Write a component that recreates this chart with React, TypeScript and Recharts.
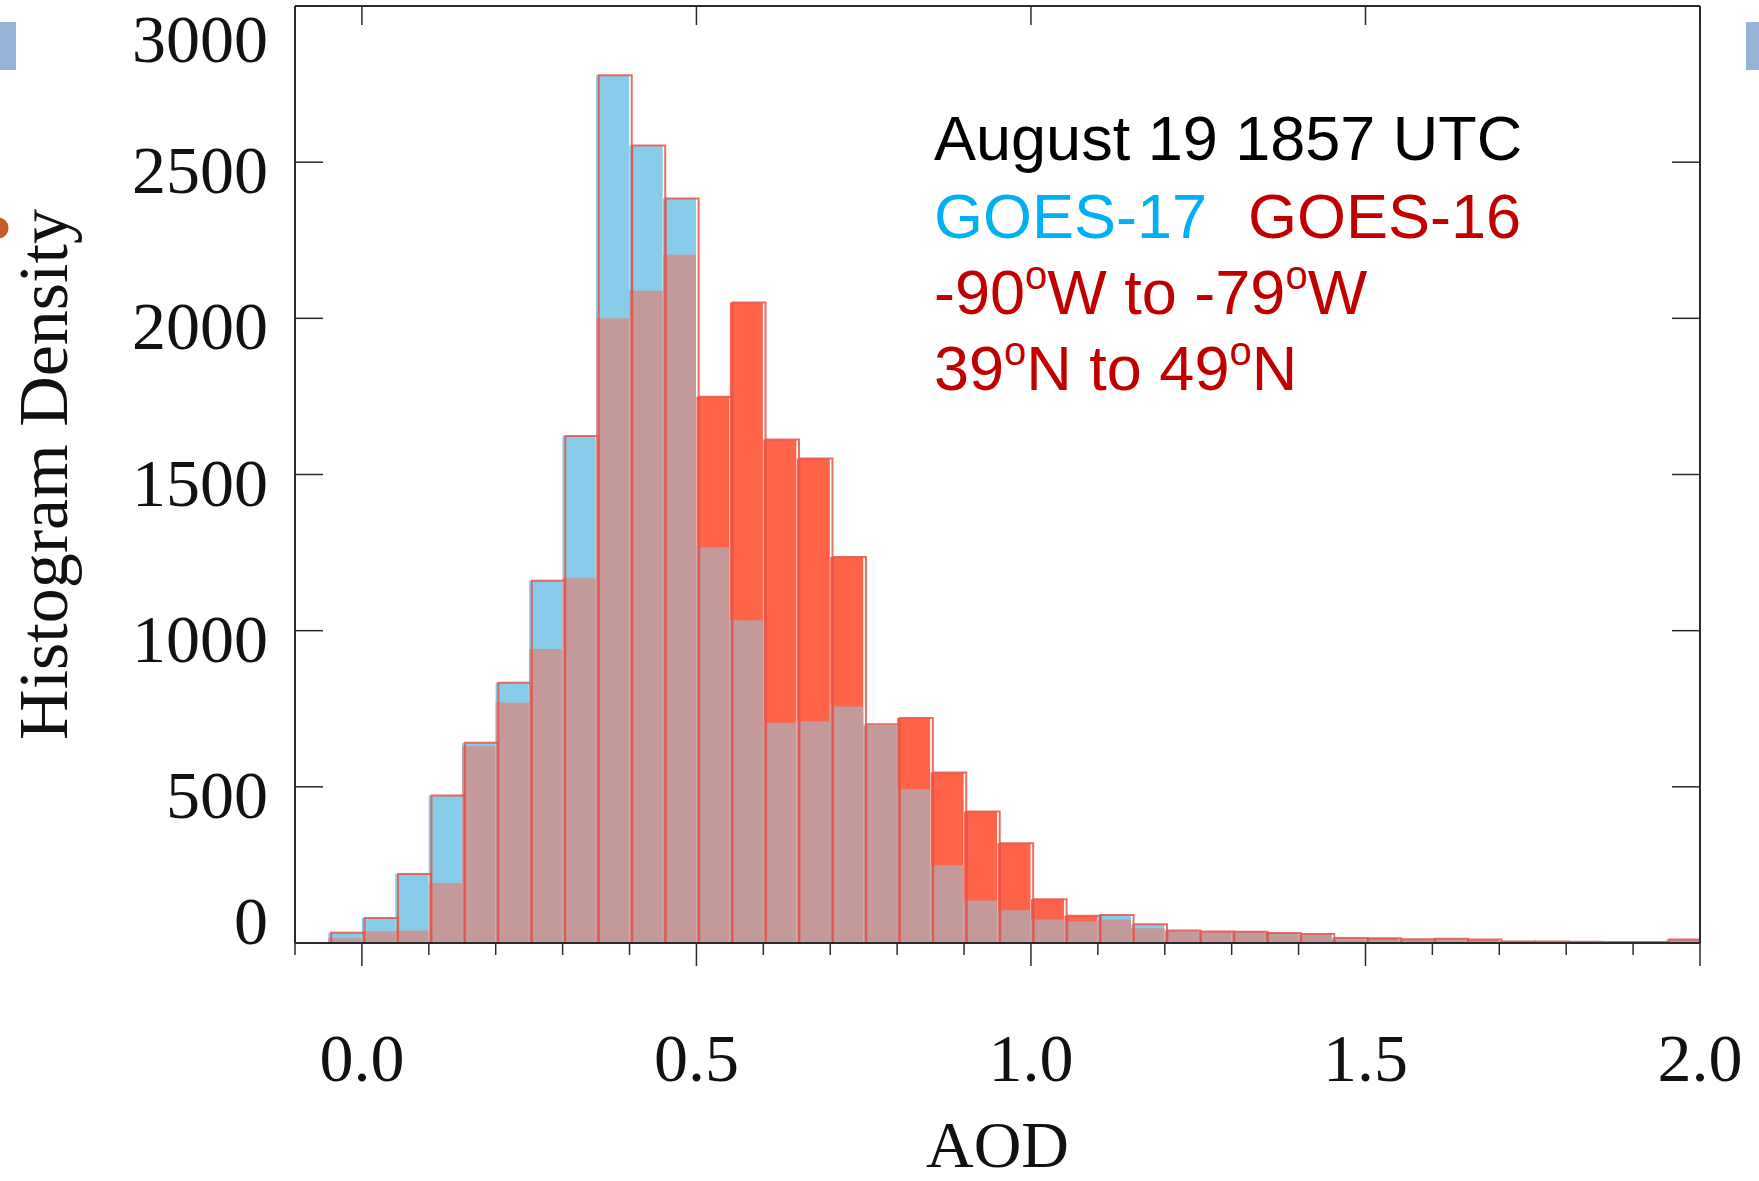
import React from "react";
import { Bar, ComposedChart, XAxis, YAxis } from "recharts";

// histogram bins (left edge of each 0.05-wide AOD bin)
const binStarts = [
  -0.05, 0, 0.05, 0.1, 0.15, 0.2, 0.25, 0.3, 0.35, 0.4,
  0.45, 0.5, 0.55, 0.6, 0.65, 0.7, 0.75, 0.8, 0.85, 0.9,
  0.95, 1.0, 1.05, 1.1, 1.15, 1.2, 1.25, 1.3, 1.35, 1.4,
  1.45, 1.5, 1.55, 1.6, 1.65, 1.7, 1.75, 1.8, 1.85, 1.9,
  1.95,
];

// GOES-17 (blue)
const goes17 = [
  33, 80, 221, 472, 641, 833, 1160, 1623, 2778, 2553,
  2384, 1266, 1033, 705, 709, 757, 700, 492, 249, 136,
  105, 75, 69, 90, 60, 40, 37, 36, 30, 29,
  16, 10, 12, 14, 9, 5, 5, 4, 3, 3,
  11,
];

// GOES-16 (red)
const goes16 = [
  15, 38, 40, 192, 630, 770, 941, 1168, 2000, 2088,
  2204, 1749, 2051, 1612, 1551, 1236, 695, 720, 546, 421,
  319, 140, 87, 75, 47, 38, 35, 34, 32, 27,
  12, 15, 10, 11, 11, 5, 4, 4, 3, 2,
  9,
];

const xTicks = [
  -0.1, 0, 0.1, 0.2, 0.3, 0.4, 0.5, 0.6, 0.7, 0.8, 0.9, 1.0,
  1.1, 1.2, 1.3, 1.4, 1.5, 1.6, 1.7, 1.8, 1.9, 2.0,
];
const xMajorTicks = [0, 0.5, 1.0, 1.5, 2.0];
const yTicks = [0, 500, 1000, 1500, 2000, 2500, 3000];

const BIN = 0.05;
const OUTLINE_SHIFT = 0.004;

const data = binStarts.map((start, i) => ({
  x: start + BIN / 2,
  xo: start + BIN / 2 + OUTLINE_SHIFT,
  goes17: goes17[i],
  goes16: goes16[i],
  top: Math.max(goes17[i], goes16[i]),
}));

const SERIF = "'Liberation Serif', 'Times New Roman', serif";
const SANS = "'Liberation Sans', Arial, sans-serif";
const AXIS = "#2a2a2a";
const BLUE = "#87CDEA";
const RED = "#FF6448";
const EDGE = "#E4564C";

const isMajor = (v: number) => Math.abs(v * 2 - Math.round(v * 2)) < 1e-6;

const BottomTick = (props: any) => {
  const { x, y, payload } = props;
  const v = payload.value as number;
  const major = isMajor(v);
  return (
    <g>
      <line x1={ x } y1={ y } x2={ x } y2={ y + (major ? 23 : 12) } stroke={ AXIS } strokeWidth={ 1.5 }/>
      { major && (
        <text x={ x } y={ y + 138 } textAnchor="middle" fontFamily={ SERIF } fontSize={ 68 } fill="#111">
          { v.toFixed(1) }
        </text>
      ) }
    </g>
  );
};

const TopTick = (props: any) => {
  const { x, y } = props;
  return <line x1={ x } y1={ y } x2={ x } y2={ y + 19 } stroke={ AXIS } strokeWidth={ 1.5 }/>;
};

const LeftTick = (props: any) => {
  const { x, y, payload } = props;
  const v = payload.value as number;
  // end labels sit inside the frame, middle ones a little below their tick
  const shift = v === 3000 ? 56 : v === 0 ? 1 : 31;
  return (
    <g>
      <line x1={ x } y1={ y } x2={ x + 28 } y2={ y } stroke={ AXIS } strokeWidth={ 1.5 }/>
      <text x={ x - 27 } y={ y + shift } textAnchor="end" fontFamily={ SERIF } fontSize={ 68 } fill="#111">
        { v }
      </text>
    </g>
  );
};

const RightTick = (props: any) => {
  const { x, y } = props;
  return <line x1={ x } y1={ y } x2={ x - 28 } y2={ y } stroke={ AXIS } strokeWidth={ 1.5 }/>;
};

const YTitle = (props: any) => {
  const vb = props.viewBox ?? { x: 0, y: 6, width: 295, height: 937 };
  const cx = vb.x + 67;
  const cy = vb.y + vb.height / 2;
  return (
    <text x={ cx } y={ cy } transform={ `rotate(-90, ${ cx }, ${ cy })` } textAnchor="middle"
          fontFamily={ SERIF } fontSize={ 70 } fill="#111">
      Histogram Density
    </text>
  );
};

const XTitle = (props: any) => {
  const vb = props.viewBox ?? { x: 295, y: 943, width: 1405, height: 238 };
  return (
    <text x={ vb.x + vb.width / 2 } y={ vb.y + vb.height - 14 } textAnchor="middle"
          fontFamily={ SERIF } fontSize={ 66 } fill="#111">
      AOD
    </text>
  );
};

const Deg = ({ children }: { children: string }) => (
  <>
    <tspan dy={ -25 } fontSize={ 40 }>o</tspan>
    <tspan dy={ 25 }>{ children }</tspan>
  </>
);

export default function App() {
  return (
    <div style={ { position: "absolute", left: 0, top: 0, width: 1759, height: 1181, background: "#fff" } }>
      <ComposedChart
        width={ 1759 }
        height={ 1181 }
        data={ data }
        margin={ { top: 5, right: 58, bottom: 0, left: 0 } }
        barCategoryGap={ 0 }
        barGap={ 0 }
      >
        <XAxis xAxisId="bottom" dataKey="x" type="number" domain={ [-0.1, 2.0] } allowDataOverflow
               ticks={ xTicks } interval={ 0 } tick={ BottomTick } tickLine={ false } tickSize={ 0 } tickMargin={ 0 }
               height={ 238 } axisLine={ { stroke: AXIS, strokeWidth: 2 } } label={ <XTitle/> }/>
        <XAxis xAxisId="top" orientation="top" dataKey="x" type="number" domain={ [-0.1, 2.0] } allowDataOverflow
               ticks={ xMajorTicks } interval={ 0 } tick={ TopTick } tickLine={ false } tickSize={ 0 } tickMargin={ 0 }
               height={ 1 } axisLine={ { stroke: AXIS, strokeWidth: 2 } }/>
        <XAxis xAxisId="overlay" dataKey="x" type="number" domain={ [-0.1, 2.0] } allowDataOverflow hide/>
        <XAxis xAxisId="outline" dataKey="xo" type="number" domain={ [-0.1, 2.0] } allowDataOverflow hide/>
        <YAxis yAxisId="left" type="number" domain={ [0, 3000] } allowDataOverflow ticks={ yTicks } interval={ 0 }
               width={ 295 } tick={ LeftTick } tickLine={ false } tickSize={ 0 } tickMargin={ 0 }
               axisLine={ { stroke: AXIS, strokeWidth: 2 } } label={ <YTitle/> }/>
        <YAxis yAxisId="right" orientation="right" type="number" domain={ [0, 3000] } allowDataOverflow
               ticks={ yTicks } interval={ 0 } width={ 1 } tick={ RightTick } tickLine={ false } tickSize={ 0 }
               tickMargin={ 0 } axisLine={ { stroke: AXIS, strokeWidth: 2 } }/>
        <Bar xAxisId="bottom" yAxisId="left" dataKey="goes17" name="GOES-17" fill={ BLUE } isAnimationActive={ false }/>
        <Bar xAxisId="top" yAxisId="left" dataKey="goes16" name="GOES-16" fill={ RED } isAnimationActive={ false }/>
        <Bar xAxisId="overlay" yAxisId="left" dataKey="goes17" fill={ BLUE } fillOpacity={ 0.5 }
             isAnimationActive={ false }/>
        <Bar xAxisId="outline" yAxisId="right" dataKey="top" fill="none" stroke={ EDGE } strokeWidth={ 2 }
             strokeOpacity={ 0.85 } isAnimationActive={ false }/>
      </ComposedChart>

      <svg width={ 1759 } height={ 1181 } style={ { position: "absolute", left: 0, top: 0, pointerEvents: "none" } }>
        <rect x={ 0 } y={ 22 } width={ 16 } height={ 48 } fill="#95B3D7"/>
        <rect x={ 1746 } y={ 22 } width={ 13 } height={ 48 } fill="#95B3D7"/>
        <circle cx={ -2 } cy={ 228 } r={ 10.5 } fill="#C55A22"/>
        <g fontFamily={ SANS } fontSize={ 63 }>
          <text x={ 934 } y={ 160 } fill="#000">August 19 1857 UTC</text>
          <text x={ 934 } y={ 238 }>
            <tspan fill="#00B0F0">GOES-17</tspan>
            <tspan x={ 1248 } fill="#C00000">GOES-16</tspan>
          </text>
          <text x={ 934 } y={ 314 } fill="#C00000">
            -90<Deg>W to -79</Deg><tspan dy={ -25 } fontSize={ 40 }>o</tspan><tspan dy={ 25 }>W</tspan>
          </text>
          <text x={ 934 } y={ 390 } fill="#C00000">
            39<Deg>N to 49</Deg><tspan dy={ -25 } fontSize={ 40 }>o</tspan><tspan dy={ 25 }>N</tspan>
          </text>
        </g>
      </svg>
    </div>
  );
}
